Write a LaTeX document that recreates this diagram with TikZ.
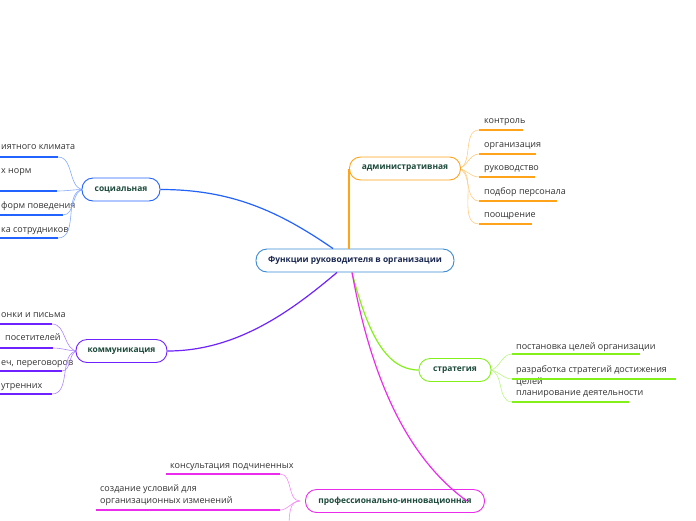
\documentclass[tikz,border=0pt]{standalone}
\usepackage{fontspec}
\setmainfont{Open Sans}
\usepackage{tikz}
\usetikzlibrary{positioning,calc}

\definecolor{cencol}{HTML}{3A8AD6}
\definecolor{admcol}{HTML}{FFA31A}
\definecolor{soccol}{HTML}{2262FF}
\definecolor{comcol}{HTML}{6E22FF}
\definecolor{strcol}{HTML}{84F01A}
\definecolor{procol}{HTML}{EC2CEC}
\definecolor{topictext}{HTML}{1D4A3C}
\definecolor{centext}{HTML}{1A2850}
\definecolor{leaftext}{HTML}{333333}

\tikzset{
  topic/.style={draw, line width=0.9pt, rounded corners=11pt, minimum height=23pt,
    inner sep=0pt, fill=white, text=topictext,
    font=\bfseries\fontsize{8.4}{10}\selectfont},
  leaf/.style={anchor=west, inner sep=0pt, text height=6.5pt, text depth=2.2pt,
    text=leaftext, font=\fontsize{9}{11}\selectfont},
  leaftwo/.style={anchor=west, inner sep=0pt, align=left, text=leaftext,
    font=\fontsize{9}{12}\selectfont},
  branch/.style={line width=1.2pt},
  twig/.style={line width=0.6pt},
  under/.style={line width=1.6pt}
}

\begin{document}
\begin{tikzpicture}[x=1pt,y=-1pt]
  \useasboundingbox (0,0) rectangle (696,520);

  % leaf anchors
  \coordinate (a1) at (479,130);
  \coordinate (a2) at (479,154);
  \coordinate (a3) at (479,177);
  \coordinate (a4) at (479,201);
  \coordinate (a5) at (479,224);
  \coordinate (s1) at (58,157);
  \coordinate (s2) at (57,191);
  \coordinate (s3) at (63,215);
  \coordinate (s4) at (58,238);
  \coordinate (c1) at (52,324);
  \coordinate (c2) at (53,348);
  \coordinate (c3) at (62,371);
  \coordinate (c4) at (52,394);
  \coordinate (t1) at (512,354);
  \coordinate (t2) at (512,379);
  \coordinate (t3) at (512,402);
  \coordinate (p1) at (280,474);
  \coordinate (p2) at (280,510);
  \coordinate (p3) at (278,548);

  % leaf texts
  \node[leaf] (a1t) at (484,121) {контроль};
  \node[leaf] (a2t) at (484,145) {организация};
  \node[leaf] (a3t) at (484,168) {руководство};
  \node[leaf] (a4t) at (484,192) {подбор персонала};
  \node[leaf] (a5t) at (484,215) {поощрение};
  \node[leaf] (s1t) at (1,147) {иятного климата};
  \node[leaf] (s2t) at (1,171) {х норм};
  \node[leaf] (s3t) at (1,206) {форм поведения};
  \node[leaf] (s4t) at (1,230) {ка сотрудников};
  \node[leaf] (c1t) at (1,315) {онки и письма};
  \node[leaf] (c2t) at (5,338) {посетителей};
  \node[leaf] (c3t) at (1,363) {еч, переговоров};
  \node[leaf] (c4t) at (1,386) {утренних};
  \node[leaf] (t1t) at (516,347) {постановка целей организации};
  \node[leaftwo] (t2t) at (516,376) {разработка стратегий достижения\\целей};
  \node[leaf] (t3t) at (516,393) {планирование деятельности};
  \node[leaf] (p1t) at (170,466) {консультация подчиненных};
  \node[leaftwo] (p2t) at (100,495) {создание условий для\\организационных изменений};

  % underlines
  \draw[under,admcol] (a1) -- (523,130);
  \draw[under,admcol] (a2) -- (536,154);
  \draw[under,admcol] (a3) -- (535,177);
  \draw[under,admcol] (a4) -- (557,201);
  \draw[under,admcol] (a5) -- (532,224);
  \draw[under,soccol] (s1) -- ++(-62,0);
  \draw[under,soccol] (s2) -- ++(-62,0);
  \draw[under,soccol] (s3) -- ++(-66,0);
  \draw[under,soccol] (s4) -- ++(-62,0);
  \draw[under,comcol] (c1) -- ++(-56,0);
  \draw[under,comcol] (c2) -- ++(-56,0);
  \draw[under,comcol] (c3) -- ++(-66,0);
  \draw[under,comcol] (c4) -- ++(-56,0);
  \draw[under,strcol] (t1) -- (640,354);
  \draw[under,strcol] (t2) -- (676,379);
  \draw[under,strcol] (t3) -- (629,402);
  \draw[under,procol] (p1) -- (166,474);
  \draw[under,procol] (p2) -- (96,510);

  % twigs
  \draw[twig,admcol!55] (457,168.5) to[out=0,in=180] (a1);
  \draw[twig,admcol!55] (457,168.5) to[out=0,in=180] (a2);
  \draw[twig,admcol!55] (457,168.5) to[out=0,in=180] (a3);
  \draw[twig,admcol!55] (457,168.5) to[out=0,in=180] (a4);
  \draw[twig,admcol!55] (457,168.5) to[out=0,in=180] (a5);
  \draw[twig,soccol!55] (84,189.5) to[out=180,in=0] (s1);
  \draw[twig,soccol!55] (84,189.5) to[out=180,in=0] (s2);
  \draw[twig,soccol!55] (84,189.5) to[out=180,in=0] (s3);
  \draw[twig,soccol!55] (84,189.5) to[out=180,in=0] (s4);
  \draw[twig,comcol!55] (78,351) to[out=180,in=0] (c1);
  \draw[twig,comcol!55] (78,351) to[out=180,in=0] (c2);
  \draw[twig,comcol!55] (78,351) to[out=180,in=0] (c3);
  \draw[twig,comcol!55] (78,351) to[out=180,in=0] (c4);
  \draw[twig,strcol!55] (489,370) to[out=0,in=180] (t1);
  \draw[twig,strcol!55] (489,370) to[out=0,in=180] (t2);
  \draw[twig,strcol!55] (489,370) to[out=0,in=180] (t3);
  \draw[twig,procol!55] (300,501) to[out=180,in=0] (p1);
  \draw[twig,procol!55] (300,501) to[out=180,in=0] (p2);
  \draw[twig,procol!55] (300,501) to[out=180,in=0] (p3);

  % topics
  \node[topic, draw=cencol, text=centext, minimum width=198pt] (cen) at (355,260.5) {Функции руководителя в организации};
  \node[topic, draw=admcol, minimum width=111pt] (adm) at (405,168.5) {административная};
  \node[topic, draw=soccol, minimum width=78pt] (soc) at (121,189.5) {социальная};
  \node[topic, draw=comcol, minimum width=91pt] (com) at (121.5,351) {коммуникация};
  \node[topic, draw=strcol, minimum width=72pt] (str) at (455,370) {стратегия};
  \node[topic, draw=procol, minimum width=179pt] (pro) at (395,501) {профессионально-инновационная};

  % branches
  \draw[branch,admcol] (cen.north -| adm.west) -- (adm.west);
  \draw[branch,soccol] ([xshift=-22pt]cen.north) .. controls +(-55,-38) and +(70,0) .. (soc.east);
  \draw[branch,comcol] ([xshift=-18pt]cen.south) .. controls +(-45,38) and +(70,0) .. (com.east);
  \draw[branch,strcol] ([xshift=-3pt]cen.south) .. controls +(16,62) and +(-32,0) .. (str.west);
  \draw[branch,procol] ([xshift=-3pt]cen.south) .. controls +(20,110) and +(-58,-42) .. ([xshift=-18pt]pro.east);
\end{tikzpicture}
\end{document}
